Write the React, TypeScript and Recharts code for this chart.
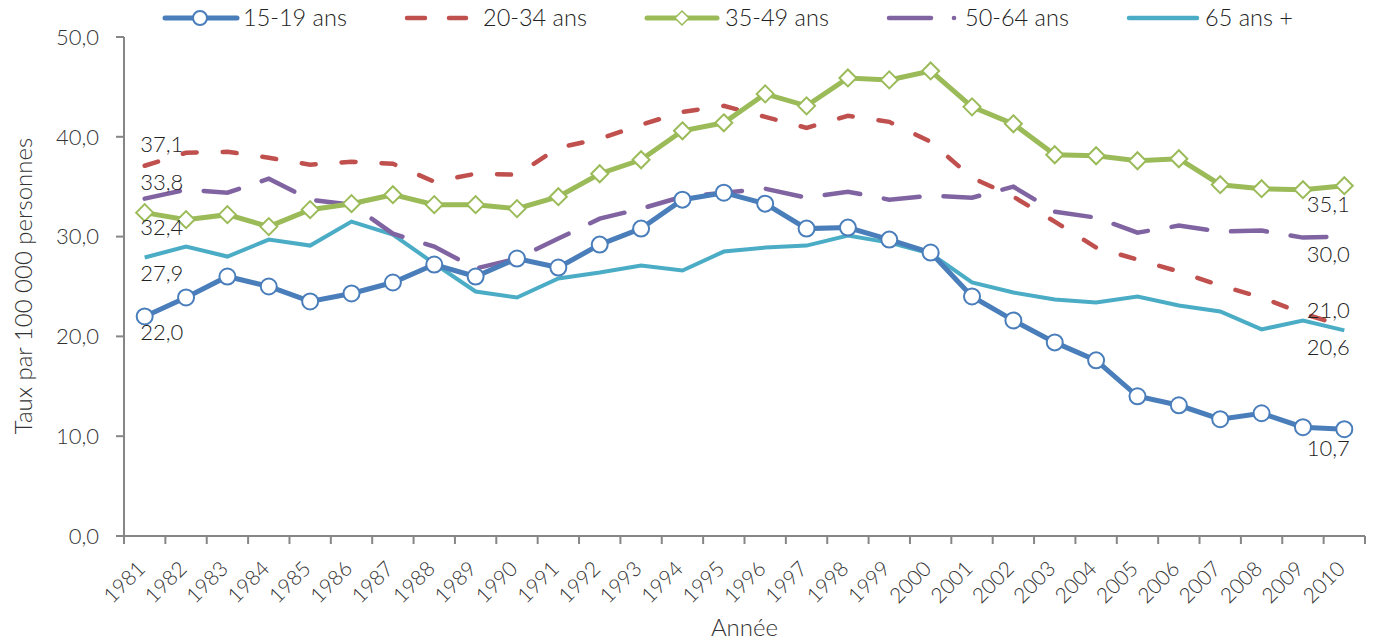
import React from "react";
import { LineChart, Line, XAxis, YAxis } from "recharts";

const years = [
  "1981", "1982", "1983", "1984", "1985", "1986", "1987", "1988", "1989", "1990",
  "1991", "1992", "1993", "1994", "1995", "1996", "1997", "1998", "1999", "2000",
  "2001", "2002", "2003", "2004", "2005", "2006", "2007", "2008", "2009", "2010",
];
const taux15a19 = [22.0, 23.9, 26.0, 25.0, 23.5, 24.3, 25.4, 27.2, 26.0, 27.8, 26.9, 29.2, 30.8, 33.7, 34.4, 33.3, 30.8, 30.9, 29.7, 28.4, 24.0, 21.6, 19.4, 17.6, 14.0, 13.1, 11.7, 12.3, 10.9, 10.7];
const taux20a34 = [37.1, 38.4, 38.5, 37.9, 37.2, 37.5, 37.3, 35.5, 36.3, 36.2, 38.9, 39.8, 41.2, 42.5, 43.1, 42.0, 40.9, 42.1, 41.5, 39.5, 35.9, 34.0, 31.5, 28.9, 27.7, 26.5, 25.1, 23.9, 22.3, 21.0];
const taux35a49 = [32.4, 31.7, 32.2, 31.0, 32.7, 33.3, 34.2, 33.2, 33.2, 32.8, 34.0, 36.3, 37.7, 40.6, 41.4, 44.3, 43.1, 45.9, 45.7, 46.6, 43.0, 41.3, 38.2, 38.1, 37.6, 37.8, 35.2, 34.8, 34.7, 35.1];
const taux50a64 = [33.8, 34.7, 34.4, 35.8, 33.7, 33.2, 30.3, 29.0, 26.8, 27.8, 29.8, 31.8, 32.8, 34.0, 34.4, 34.8, 33.9, 34.5, 33.7, 34.1, 33.9, 35.0, 32.5, 31.9, 30.4, 31.1, 30.5, 30.6, 29.9, 30.0];
const taux65plus = [27.9, 29.0, 28.0, 29.7, 29.1, 31.5, 30.2, 27.3, 24.5, 23.9, 25.8, 26.4, 27.1, 26.6, 28.5, 28.9, 29.1, 30.1, 29.4, 28.3, 25.4, 24.4, 23.7, 23.4, 24.0, 23.1, 22.5, 20.7, 21.6, 20.6];
const yTicks = [0, 10, 20, 30, 40, 50];

const data = years.map((annee, i) => ({
  annee,
  a: taux15a19[i],
  b: taux20a34[i],
  c: taux35a49[i],
  d: taux50a64[i],
  e: taux65plus[i],
}));

const FONT = "Lato, 'Open Sans', sans-serif";
const W = 1367;
const H = 632;
const LEFT = 116;
const RIGHT = 1357;
const STEP = (RIGHT - LEFT) / years.length;
const AXIS = "#868686";

const BLUE = "#4a7ebb";
const RED = "#c0504d";
const GREEN = "#9bbb59";
const PURPLE = "#8064a2";
const TEAL = "#4bacc6";

const fmt = (v: number) => v.toFixed(1).replace(".", ",");

const YearTick = (props: any) => {
  const { x, y, payload, index } = props;
  const ax = x + 2;
  const ay = y + 34;
  return (
    <g>
      <line x1={x - STEP / 2} y1={y} x2={x - STEP / 2} y2={y + 8} stroke={AXIS} strokeWidth={2} />
      {index === years.length - 1 && (
        <line x1={x + STEP / 2} y1={y} x2={x + STEP / 2} y2={y + 8} stroke={AXIS} strokeWidth={2} />
      )}
      <text
        x={ax}
        y={ay}
        transform={`rotate(-45, ${ax}, ${ay})`}
        textAnchor="end"
        fontSize={21}
        fontFamily={FONT}
        fontWeight={300}
        fill="#333"
      >
        {payload.value}
      </text>
    </g>
  );
};

// end labels: first and last point only
const endLabel = (firstDy: number, lastDy: number) => (props: any) => {
  const { index, value } = props;
  const px = props.x ?? props.viewBox?.x;
  const py = props.y ?? props.viewBox?.y;
  if (index !== 0 && index !== years.length - 1) return null;
  const first = index === 0;
  return (
    <text
      key={`lbl-${index}`}
      x={px + (first ? 17 : -16)}
      y={py + (first ? firstDy : lastDy)}
      textAnchor="middle"
      fontSize={22}
      fontFamily={FONT}
      fontWeight={300}
      fill="#222"
    >
      {fmt(Number(value))}
    </text>
  );
};

const CircleDot = (props: any) => {
  const { cx, cy, index } = props;
  return <circle key={`c-${index}`} cx={cx} cy={cy} r={8} fill="#fff" stroke={BLUE} strokeWidth={2} />;
};

const DiamondDot = (props: any) => {
  const { cx, cy, index } = props;
  const s = 8.5;
  return (
    <polygon
      key={`dm-${index}`}
      points={`${cx},${cy - s} ${cx + s},${cy} ${cx},${cy + s} ${cx - s},${cy}`}
      fill="#fff"
      stroke={GREEN}
      strokeWidth={2}
    />
  );
};

// legend drawn as an overlay; y is measured from the page top (svg shifted up by the body margin)
const LY = 18;
const LT = 26;
const Legende = () => (
  <svg width={W} height={44} style={{ position: "absolute", left: 0, top: -8 }}>
    <g fontFamily={FONT} fontWeight={300} fontSize={23.5} fill="#222">
      <line x1={157} y1={LY} x2={229} y2={LY} stroke={BLUE} strokeWidth={5} strokeLinecap="round" />
      <circle cx={192} cy={LY} r={7} fill="#fff" stroke={BLUE} strokeWidth={2} />
      <text x={235} y={LT}>15-19 ans</text>

      <line x1={399} y1={LY} x2={417} y2={LY} stroke={RED} strokeWidth={4.5} strokeLinecap="round" />
      <line x1={441} y1={LY} x2={458} y2={LY} stroke={RED} strokeWidth={4.5} strokeLinecap="round" />
      <text x={475} y={LT}>20-34 ans</text>

      <line x1={639} y1={LY} x2={709} y2={LY} stroke={GREEN} strokeWidth={5} strokeLinecap="round" />
      <polygon points={`674,${LY - 7} 681,${LY} 674,${LY + 7} 667,${LY}`} fill="#fff" stroke={GREEN} strokeWidth={1.5} />
      <text x={717} y={LT}>35-49 ans</text>

      <line x1={881} y1={LY} x2={923} y2={LY} stroke={PURPLE} strokeWidth={4.5} strokeLinecap="round" />
      <circle cx={946} cy={LY} r={2.3} fill={PURPLE} />
      <text x={957} y={LT}>50-64 ans</text>

      <line x1={1121} y1={LY} x2={1189} y2={LY} stroke={TEAL} strokeWidth={4.5} strokeLinecap="round" />
      <text x={1197} y={LT}>65 ans +</text>
    </g>
  </svg>
);

export default function App() {
  return (
    <div style={{ position: "relative", width: W, height: H }}>
      <LineChart width={W} height={H} data={data} margin={{ top: 29, right: W - RIGHT, bottom: 0, left: 0 }}>
        <XAxis
          dataKey="annee"
          height={H - 528}
          interval={0}
          padding={{ left: STEP / 2, right: STEP / 2 }}
          tickSize={0}
          tickMargin={0}
          tickLine={false}
          stroke={AXIS}
          strokeWidth={2}
          tick={<YearTick />}
          label={{
            value: "Année",
            content: () => (
              <text x={(LEFT + RIGHT) / 2} y={628} textAnchor="middle" fontSize={24} fontFamily={FONT} fontWeight={300} fill="#333">
                Année
              </text>
            ),
          }}
        />
        <YAxis
          width={LEFT}
          domain={[0, 50]}
          ticks={yTicks}
          tickFormatter={fmt}
          tickSize={8}
          tickMargin={17}
          stroke={AXIS}
          strokeWidth={2}
          tick={{ fontSize: 22, fontFamily: FONT, fontWeight: 300, fill: "#333" }}
          label={{
            value: "Taux par 100 000 personnes",
            content: () => (
              <text x={14} y={278} transform="rotate(-90, 14, 278)" textAnchor="middle" dominantBaseline="central" fontSize={24} fontFamily={FONT} fontWeight={300} fill="#333">
                Taux par 100 000 personnes
              </text>
            ),
          }}
        />
        <Line dataKey="e" type="linear" stroke={TEAL} strokeWidth={4} dot={false} isAnimationActive={false} label={endLabel(23, 25)} />
        <Line dataKey="d" type="linear" stroke={PURPLE} strokeWidth={4.5} strokeDasharray="36 24" strokeLinecap="round" dot={false} isAnimationActive={false} label={endLabel(-9, 25)} />
        <Line dataKey="b" type="linear" stroke={RED} strokeWidth={4.5} strokeDasharray="14 26" strokeLinecap="round" dot={false} isAnimationActive={false} label={endLabel(-14, -8)} />
        <Line dataKey="c" type="linear" stroke={GREEN} strokeWidth={5} dot={<DiamondDot />} isAnimationActive={false} label={endLabel(22, 26)} />
        <Line dataKey="a" type="linear" stroke={BLUE} strokeWidth={5} dot={<CircleDot />} isAnimationActive={false} label={endLabel(24, 27)} />
      </LineChart>
      <Legende />
    </div>
  );
}
